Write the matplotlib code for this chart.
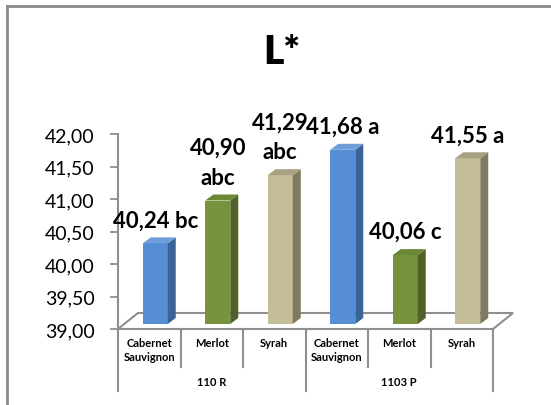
import matplotlib
matplotlib.use("Agg")
import matplotlib.pyplot as plt
from matplotlib.patches import Polygon
from matplotlib.lines import Line2D
from matplotlib.transforms import offset_copy, blended_transform_factory

# ---- data -------------------------------------------------------------
cultivars = ["Cabernet\nSauvignon", "Merlot", "Syrah",
             "Cabernet\nSauvignon", "Merlot", "Syrah"]
rootstocks = ["110 R", "1103 P"]
l_values = [40.24, 40.90, 41.29, 41.68, 40.06, 41.55]
letters = ["bc", "abc", "abc", "a", "c", "a"]
label_breaks = [False, True, True, False, False, False]
y_ticks = [39.0, 39.5, 40.0, 40.5, 41.0, 41.5, 42.0]

# ---- styling ----------------------------------------------------------
FONT = ["Lato", "DejaVu Sans"]
plt.rcParams["font.family"] = FONT
GRID = "#8f8f8f"
FACE = {"blue": ("#558ED5", "#3A6397", "#6E9DDA"),
        "green": ("#77933C", "#4F6228", "#6C8835"),
        "tan": ("#C4BD97", "#7F7B61", "#A8A283")}
bar_styles = ["blue", "green", "tan", "blue", "green", "tan"]

W, H = 551, 406
fig = plt.figure(figsize=(W / 100, H / 100), dpi=100)
ax = fig.add_axes([118 / W, (H - 330) / H, 375 / W, 195 / H])
ax.set_xlim(-0.5, 5.5)
ax.set_ylim(39, 42)

PX_X = 375 / 6.0   # pixels per category
PX_Y = 195 / 3.0   # pixels per unit of L*

# value axis
for s in ("top", "right", "bottom"):
    ax.spines[s].set_visible(False)
ax.spines["left"].set_color(GRID)
ax.spines["left"].set_linewidth(1.5)
ax.set_yticks(y_ticks)
ax.set_yticklabels([f"{t:.2f}".replace(".", ",") for t in y_ticks])
ax.tick_params(axis="y", direction="out", length=6, width=1.3, color=GRID,
               pad=11, labelsize=14)
ax.set_xticks([])

# floor of the 3-D plot area
fdx, fdy = 20 / PX_X, 16 / PX_Y
floor = Polygon([(-0.5, 39), (5.5, 39), (5.5 + fdx, 39 + fdy), (-0.5 + fdx, 39 + fdy)],
                closed=True, facecolor="white", edgecolor=GRID, linewidth=1.5,
                clip_on=False, zorder=1)
ax.add_patch(floor)

# columns: front face via ax.bar, side and top faces as polygons
bar_tr = offset_copy(ax.transData, fig=fig, x=6, y=5, units="dots")
bw = 0.4
ddx, ddy = 8 / PX_X, 6 / PX_Y
xs = list(range(len(l_values)))
fronts = [FACE[s][0] for s in bar_styles]
ax.bar(xs, [v - 39 for v in l_values], bottom=39, width=bw, color=fronts,
       transform=bar_tr, clip_on=False, zorder=3, linewidth=0)
for i, (v, st) in enumerate(zip(l_values, bar_styles)):
    _, side_c, top_c = FACE[st]
    r = i + bw / 2
    l = i - bw / 2
    side = Polygon([(r, 39), (r + ddx, 39 + ddy), (r + ddx, v + ddy), (r, v)],
                   closed=True, facecolor=side_c, edgecolor="none",
                   transform=bar_tr, clip_on=False, zorder=3)
    top = Polygon([(l, v), (r, v), (r + ddx, v + ddy), (l + ddx, v + ddy)],
                  closed=True, facecolor=top_c, edgecolor="none",
                  transform=bar_tr, clip_on=False, zorder=3)
    ax.add_patch(side)
    ax.add_patch(top)

    num = f"{v:.2f}".replace(".", ",")
    txt = f"{num}\n{letters[i]}" if label_breaks[i] else f"{num} {letters[i]}"
    ax.annotate(txt, xy=(i, v), xycoords=bar_tr, xytext=(0, 13),
                textcoords="offset pixels", ha="center", va="bottom",
                fontsize=16, fontweight="bold", linespacing=1.5,
                annotation_clip=False, zorder=5)

# two-level category axis below the floor
btr = blended_transform_factory(ax.transData, fig.transFigure)
def fy(py):
    return 1 - py / H

for xd in (-0.5, 0.5, 1.5, 2.5, 3.5, 4.5, 5.5):
    bottom = 392 if xd in (-0.5, 2.5, 5.5) else 368
    ax.add_line(Line2D([xd, xd], [fy(330), fy(bottom)], transform=btr,
                       color=GRID, linewidth=1.5, clip_on=False))
for i, name in enumerate(cultivars):
    ax.text(i, fy(338), name, transform=btr, ha="center", va="top",
            fontsize=8, fontweight="bold", linespacing=1.3)
for g, name in enumerate(rootstocks):
    ax.text(3 * g + 1, fy(383), name, transform=btr, ha="center", va="center",
            fontsize=8, fontweight="bold")

# title
fig.text(282 / W, fy(53), "L*", ha="center", va="center",
         fontsize=28, fontweight="heavy")

# chart border (top and left edges)
fig.add_artist(Line2D([7 / W, 1], [fy(7), fy(7)], transform=fig.transFigure,
                      color="#8a8a8a", linewidth=2))
fig.add_artist(Line2D([7 / W, 7 / W], [fy(7), 0], transform=fig.transFigure,
                      color="#8a8a8a", linewidth=2))

fig.savefig("out.png", dpi=100, facecolor="white")
